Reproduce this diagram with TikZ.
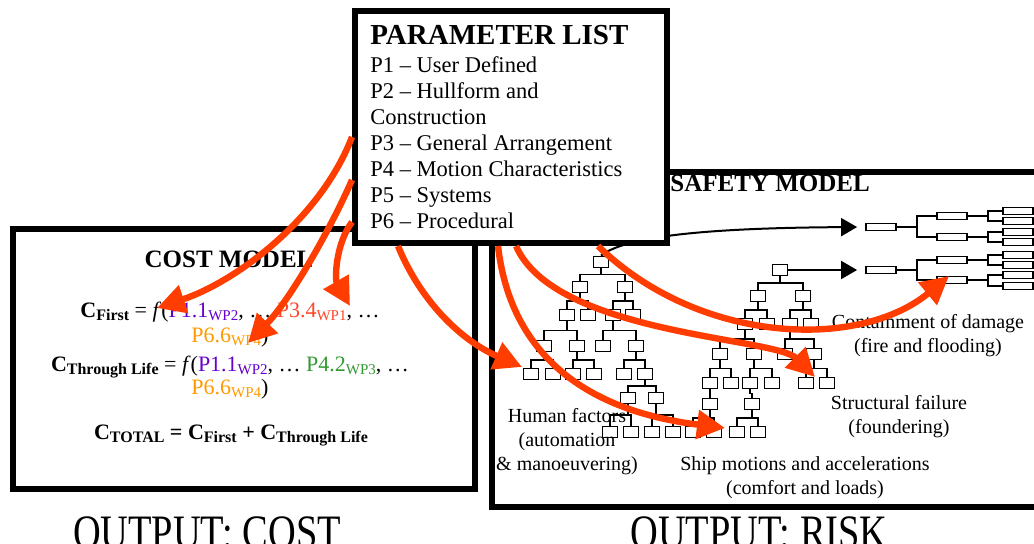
\documentclass[tikz,border=0pt]{standalone}
\usepackage{fontspec}
\setmainfont{Liberation Serif}
\usepackage{graphicx}
\usetikzlibrary{arrows.meta,calc}
\definecolor{feedred}{RGB}{255,61,0}
\definecolor{wpviolet}{RGB}{102,0,204}
\definecolor{wpgreen}{RGB}{51,153,51}
\definecolor{wporange}{RGB}{255,153,0}
\definecolor{wpred}{RGB}{255,70,40}
\tikzset{
  panel/.style={draw, line width=3pt, fill=white, inner sep=0pt},
  ftbox/.style={draw, line width=0.9pt, minimum width=7.5pt, minimum height=5.5pt, inner sep=0pt},
  chbox/.style={draw, line width=0.9pt, minimum width=15pt, minimum height=3.5pt, inner sep=0pt},
  ftline/.style={line width=0.9pt},
  feed/.style={draw=feedred, line width=3.2pt, -{Triangle[length=14pt,width=14pt]}},
  chainarrow/.style={line width=1pt, -{Triangle[length=8pt,width=9pt]}, shorten >=4pt},
  plfont/.style={font=\fontsize{11.25}{13}\selectfont, inner sep=0pt},
  cfont/.style={font=\fontsize{11}{13}\selectfont},
  sfont/.style={font=\fontsize{10}{12}\selectfont, align=center},
  titlefont/.style={font=\fontsize{12.5}{14}\selectfont\bfseries}
}
\newcommand{\ftlink}[2]{\draw[ftline] (#1.south) |- ($(#1.south)!.5!(#2.north)$) -| (#2.north);}
\newcommand{\csub}[1]{\raisebox{-1.5pt}{\fontsize{8}{8}\selectfont\bfseries #1}}
\newcommand{\wpsub}[1]{\raisebox{-1.5pt}{\fontsize{7.5}{7.5}\selectfont WP#1}}

\begin{document}
\begin{tikzpicture}[x=0.5pt, y=-0.5pt]
  \useasboundingbox (0,0) rectangle (1034,544);
  % model panels
  \node[panel, minimum width=231pt, minimum height=130pt] (cost) at (244,359) {};
  \node[panel, minimum width=279.25pt, minimum height=167.5pt] (safety) at (770.75,340) {};

  % fault tree A
  \foreach \n/\x/\y in {a0/601/262, a1/580/287, a2/625/287, a3/567/315, a4/588/315,
      a5/613/315, a6/633/315, a7/544/346, a8/577/346, a9/603/346, a10/636/346,
      a11/531/374, a12/553/374, a13/573/374, a14/594/374, a15/624/374, a16/645/374,
      a17/628/398, a18/656/398, a19/610/432, a20/631/432, a21/652/432, a22/673/432}
    \node[ftbox] (\n) at (\x,\y) {};
  \foreach \p/\c in {a0/a1, a0/a2, a1/a3, a1/a4, a2/a5, a2/a6, a3/a7, a3/a8, a5/a9, a5/a10,
      a7/a11, a7/a12, a8/a13, a8/a14, a10/a15, a10/a16, a16/a17, a16/a18,
      a17/a19, a17/a20, a18/a21, a18/a22}
    {\ftlink{\p}{\c}}

  % fault tree B
  \foreach \n/\x/\y in {b0/780/270, b1/758/296, b2/803/296, b3/745/324, b4/767/324,
      b5/790/324, b6/811/324, b7/720/354, b8/754/354, b9/785/354, b10/814/354,
      b11/710/383, b12/731/383, b13/750/383, b14/772/383, b15/806/383, b16/827/383,
      b17/710/404, b18/752/404, b19/693/432, b20/714/432, b21/737/432, b22/758/432}
    \node[ftbox] (\n) at (\x,\y) {};
  \foreach \p/\c in {b0/b1, b0/b2, b1/b3, b1/b4, b2/b5, b2/b6, b3/b7, b3/b8, b5/b9, b5/b10,
      b7/b11, b7/b12, b8/b13, b8/b14, b10/b15, b10/b16, b11/b17, b13/b18,
      b17/b19, b17/b20, b18/b21, b18/b22}
    {\ftlink{\p}{\c}}

  % event chains on the right
  \foreach \n/\x/\y in {ch1/881/227, ch2/881/270, ch1a/952/216, ch1b/952/237,
      ch2a/952/260, ch2b/952/280, ch1aa/1018/211, ch1ab/1018/221, ch1ba/1018/232,
      ch1bb/1018/242, ch2aa/1018/255, ch2ab/1018/265, ch2ba/1018/275, ch2bb/1018/286}
    \node[chbox] (\n) at (\x,\y) {};
  \foreach \p/\c in {ch1/ch1a, ch1/ch1b, ch2/ch2a, ch2/ch2b, ch1a/ch1aa, ch1a/ch1ab,
      ch1b/ch1ba, ch1b/ch1bb, ch2a/ch2aa, ch2a/ch2ab, ch2b/ch2ba, ch2b/ch2bb}
    \draw[ftline] (\p.east) -- ++(20,0) |- (\c.west);
  \draw[chainarrow] (a0.north) .. controls (625,237) and (700,228) .. (ch1.west);
  \draw[chainarrow] (b0.east) -- (ch2.west);

  % parameter list
  \node[panel, minimum width=156pt, minimum height=116pt] (plist) at (511,127) {};
  \node[anchor=base west, inner sep=0pt, font=\fontsize{14.5}{16}\selectfont\bfseries] (ptitle) at (370,45) {PARAMETER LIST};
  \foreach \t [count=\i] in {P1 – User Defined, P2 – Hullform and, Construction,
      P3 – General Arrangement, P4 – Motion Characteristics, P5 – Systems, P6 – Procedural}
    \node[anchor=base west, plfont] (pl\i) at (370,{47+26*\i}) {\t};

  % cost model text
  \node[anchor=base, titlefont] (ctitle) at (229,268) {COST MODEL};
  \node[anchor=base, cfont] (cfirst) at (230,318) {\textbf{C}\csub{First} = \textit{f}(\textcolor{wpviolet}{P1.1\wpsub{2}}, … \textcolor{wpred}{P3.4\wpsub{1}}, …};
  \node[anchor=base, cfont] (cfirstb) at (230,343) {\textcolor{wporange}{P6.6\wpsub{4}})};
  \node[anchor=base, cfont] (clife) at (230,372) {\textbf{C}\csub{Through Life} = \textit{f}(\textcolor{wpviolet}{P1.1\wpsub{2}}, … \textcolor{wpgreen}{P4.2\wpsub{3}}, …};
  \node[anchor=base, cfont] (clifeb) at (230,395) {\textcolor{wporange}{P6.6\wpsub{4}})};
  \node[anchor=base, cfont] (ctotal) at (231,440) {\textbf{C\csub{TOTAL} = C\csub{First} + C\csub{Through Life}}};

  % safety model text
  \node[anchor=base west, inner sep=0pt, titlefont] (stitle) at (670,192) {SAFETY MODEL};
  \node[sfont] (contain) at (928,336) {Containment of damage\\(fire and flooding)};
  \node[sfont] (struct) at (899,417) {Structural failure\\(foundering)};
  \node[sfont] (human) at (567,442) {Human factors\\(automation\\\& manoeuvering)};
  \node[sfont] (motion) at (805,478) {Ship motions and accelerations\\(comfort and loads)};

  % outputs
  \node[anchor=base, font=\fontsize{24}{28}\selectfont] (outcost) at (207,549) {\scalebox{0.8}[1]{OUTPUT: COST}};
  \node[anchor=base, font=\fontsize{24}{28}\selectfont] (outrisk) at (759,549) {\scalebox{0.8}[1]{OUTPUT: RISK}};

  % parameter feeds
  \coordinate (o1) at (plist.west |- 0,137);
  \coordinate (o2) at (plist.west |- 0,180);
  \coordinate (o3) at (plist.west |- 0,222);
  \coordinate (o4) at (plist.south -| 398,0);
  \coordinate (o5) at (plist.south -| 498,0);
  \coordinate (o6) at (plist.south -| 516,0);
  \coordinate (o7) at (plist.south -| 598,0);
  \coordinate (t1) at (157,308);
  \coordinate (t2) at (248,343);
  \coordinate (t3) at (350,306);
  \coordinate (t4) at (522,367);
  \coordinate (t5) at (725,428);
  \coordinate (t6) at (815,377);
  \coordinate (t7) at (949,276);
  \draw[feed] (o1) .. controls (320,220) and (235,282) .. (t1);
  \draw[feed] (o2) .. controls (330,230) and (290,300) .. (t2);
  \draw[feed] (o3) .. controls (335,245) and (335,280) .. (t3);
  \draw[feed] (o4) .. controls (420,300) and (460,340) .. (t4);
  \draw[feed] (o5) .. controls (510,350) and (580,410) .. (t5);
  \draw[feed] (o6) .. controls (555,335) and (775,337) .. (t6);
  \draw[feed] (o7) .. controls (700,345) and (860,350) .. (t7);
\end{tikzpicture}
\end{document}
